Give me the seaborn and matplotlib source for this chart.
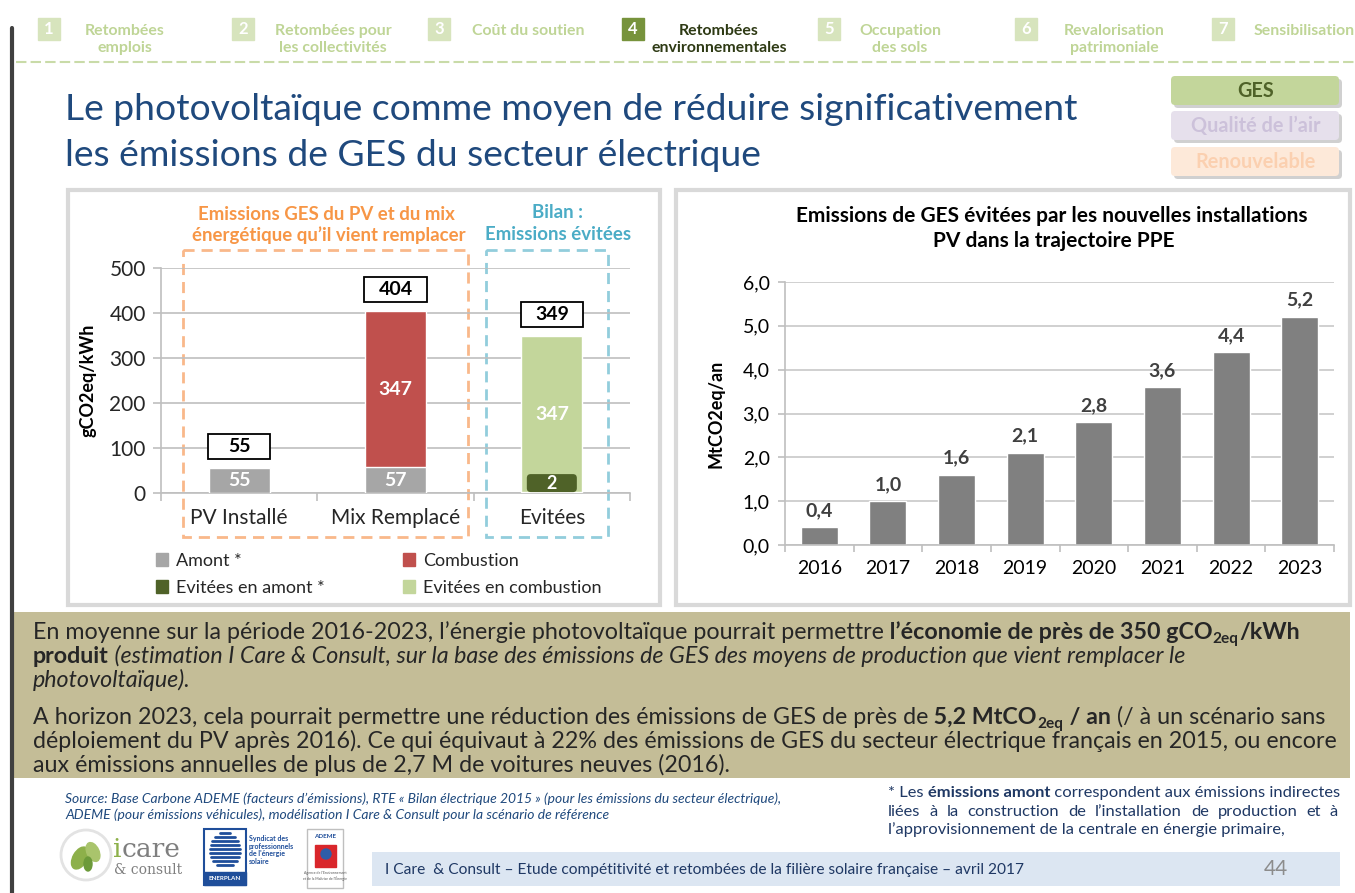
import numpy as np
import pandas as pd
import matplotlib
matplotlib.use("Agg")
import matplotlib.pyplot as plt
import seaborn as sns
from matplotlib.patches import Rectangle, FancyBboxPatch, Patch, Circle, Ellipse

sns.set_theme(style="white")
plt.rcParams['font.family'] = ['Lato', 'DejaVu Sans']

W, H = 1355, 893

# Graphique de gauche : emissions en gCO2eq/kWh
categories = ["PV Installé", "Mix Remplacé", "Evitées"]
amont = [55, 57, 2]
combustion = [0, 347, 347]
totaux = [55, 404, 349]
yticks_gauche = [0, 100, 200, 300, 400, 500]

# Graphique de droite : emissions evitees en MtCO2eq/an
annees = ["2016", "2017", "2018", "2019", "2020", "2021", "2022", "2023"]
evitees = [0.4, 1.0, 1.6, 2.1, 2.8, 3.6, 4.4, 5.2]
yticks_droite = [0, 1, 2, 3, 4, 5, 6]

# couleurs
GRIS = "#A6A6A6"
ROUGE = "#C0504D"
VERT_FONCE = "#4F6228"
VERT_CLAIR = "#C3D69B"
BLEU_TITRE = "#1F497D"
TEXTE = "#262626"
GRILLE = "#BFBFBF"

fig = plt.figure(figsize=(W / 100, H / 100), dpi=100)
bg = fig.add_axes([0, 0, 1, 1])
bg.set_xlim(0, W)
bg.set_ylim(H, 0)
bg.axis("off")
rend = fig.canvas.get_renderer()


def rect(x0, y0, x1, y1):
    return [x0 / W, 1 - y1 / H, (x1 - x0) / W, (y1 - y0) / H]


def largeur(txt, size, **kw):
    t = bg.text(0, 0, txt, fontsize=size, **kw)
    w = t.get_window_extent(rend).width
    t.remove()
    return w


def ajuste(txt, cible, **kw):
    return 10 * cible / largeur(txt, 10, **kw)


def ligne(x, y, morceaux, size, color):
    # morceaux : (texte, options) ; espaces uniquement en tete de morceau
    for txt, opts in morceaux:
        opts = dict(opts)
        sub = opts.pop("sub", False)
        s = size * 0.66 if sub else size
        yy = y + size * 100 / 72 * 0.17 if sub else y
        t = bg.text(x, yy, txt, fontsize=s, color=color, va="baseline", ha="left", **opts)
        x += t.get_window_extent(rend).width + (1 if sub else 0)


def justifie(x0, x1, y, txt, size, color, **kw):
    mots = txt.split(" ")
    ws = [largeur(m, size, **kw) for m in mots]
    gap = (x1 - x0 - sum(ws)) / (len(mots) - 1)
    x = x0
    for m, w in zip(mots, ws):
        bg.text(x, y, m, fontsize=size, color=color, va="baseline", ha="left", **kw)
        x += w + gap


# ---- bandeau de navigation
bg.plot([12, 12], [28, H], color="#404040", lw=3)
onglets = [
    (38, "1", "Retombées\nemplois", 125, "center"),
    (232, "2", "Retombées pour\nles collectivités", 333, "center"),
    (428, "3", "Coût du soutien", 472, "left"),
    (622, "4", "Retombées\nenvironnementales", 719, "center"),
    (818, "5", "Occupation\ndes sols", 900, "center"),
    (1015, "6", "Revalorisation\npatrimoniale", 1114, "center"),
    (1212, "7", "Sensibilisation", 1254, "left"),
]
s_nav = ajuste("Retombées pour", 117, weight="bold")
for x, num, lab, xl, ha in onglets:
    actif = num == "4"
    bg.add_patch(Rectangle((x, 18), 22, 22, color="#77933C" if actif else "#D7E4BD"))
    bg.text(x + 11, 29, num, ha="center", va="center", color="white", weight="bold", fontsize=12)
    bg.text(xl, 24, lab, ha=ha, va="top", multialignment="center", weight="bold", fontsize=s_nav,
            color="#2E3A14" if actif else "#BFD596", linespacing=1.25)
bg.plot([16, W], [62, 62], color="#C9DBA8", lw=1.5, ls=(0, (5, 2)))

# ---- titre
s_titre = ajuste("Le photovoltaïque comme moyen de réduire significativement", 1013)
bg.text(65, 120, "Le photovoltaïque comme moyen de réduire significativement", fontsize=s_titre,
        color=BLEU_TITRE, va="baseline")
bg.text(65, 166, "les émissions de GES du secteur électrique", fontsize=s_titre, color=BLEU_TITRE, va="baseline")

# ---- etiquettes thematiques
tags = [("GES", 76, "#C3D69B", "#4F6228"), ("Qualité de l’air", 111, "#E6E0EC", "#CCC1DA"),
        ("Renouvelable", 147, "#FDE9D9", "#FBD0B0")]
s_tag = ajuste("Qualité de l’air", 129, weight="bold")
for lab, y, fc, tc in tags:
    bg.add_patch(FancyBboxPatch((1174, y + 3), 168, 29, boxstyle="round,pad=0,rounding_size=4",
                                fc="#D0D0D0", ec="none"))
    bg.add_patch(FancyBboxPatch((1171, y), 168, 29, boxstyle="round,pad=0,rounding_size=4",
                                fc=fc, ec="none"))
    bg.text(1256, y + 15, lab, ha="center", va="center", weight="bold", fontsize=s_tag, color=tc)

# ---- cadres des graphiques
bg.add_patch(Rectangle((68, 190), 592, 415, fill=False, ec="#D9D9D9", lw=3))
bg.add_patch(Rectangle((676, 190), 674, 415, fill=False, ec="#D9D9D9", lw=3))

# ---- graphique de gauche
ax1 = fig.add_axes(rect(161, 268, 630, 493))
df_g = pd.DataFrame({"categorie": categories, "amont": amont, "combustion": combustion})
df_g["haut"] = df_g["amont"] + df_g["combustion"]
sns.barplot(data=df_g, x="categorie", y="haut", hue="categorie",
            palette=dict(zip(categories, [GRIS, ROUGE, VERT_CLAIR])),
            width=0.39, saturation=1, legend=False, ax=ax1, zorder=2)
sns.barplot(data=df_g, x="categorie", y="amont", hue="categorie",
            palette=dict(zip(categories, [GRIS, GRIS, VERT_FONCE])),
            width=0.39, saturation=1, legend=False, ax=ax1, zorder=3)
ax1.set_xlim(-0.5, 2.5)
ax1.set_ylim(0, 500)
ax1.set_yticks(yticks_gauche)
ax1.set_axisbelow(True)
ax1.grid(axis="y", color=GRILLE, lw=1.2)
ax1.set_xticks([-0.5, 0.5, 1.5, 2.5], minor=True)
ax1.tick_params(axis="x", which="major", length=0, pad=11, labelsize=15, labelcolor=TEXTE)
ax1.tick_params(axis="x", which="minor", bottom=True, length=6, color=GRILLE, width=1.2)
ax1.tick_params(axis="y", left=True, length=6, color=GRILLE, width=1.2, pad=5, labelsize=15, labelcolor=TEXTE)
for sp in ["top", "right"]:
    ax1.spines[sp].set_visible(False)
for sp in ["left", "bottom"]:
    ax1.spines[sp].set_color(GRILLE)
    ax1.spines[sp].set_linewidth(1.2)
ax1.set_xlabel("")
ax1.set_ylabel("gCO2eq/kWh", weight="bold", fontsize=13, color="black")
ax1.yaxis.set_label_coords(-0.137, 0.5)
ax1.patch.set_alpha(0)

for i, (a, c, t) in enumerate(zip(amont, combustion, totaux)):
    if c == 0 or i == 1:
        ax1.text(i, a / 2, str(a), ha="center", va="center", color="white", weight="bold", fontsize=14, zorder=5)
    else:
        ax1.add_patch(FancyBboxPatch((i - 0.16, 2), 0.32, 40, boxstyle="round,pad=0,rounding_size=0.025",
                                     mutation_aspect=350, fc=VERT_FONCE, ec="none", zorder=4))
        ax1.text(i, 22, str(a), ha="center", va="center", color="white", weight="bold", fontsize=13, zorder=5)
    if c > 0:
        ax1.text(i, a + c / 2, str(c), ha="center", va="center", color="white", weight="bold", fontsize=14, zorder=5)
    ax1.add_patch(Rectangle((i - 0.2, t + 48 - 28), 0.4, 56, fc="white", ec="black", lw=1.3,
                            zorder=4, clip_on=False))
    ax1.text(i, t + 48, str(t), ha="center", va="center", weight="bold", fontsize=14, color="black",
             zorder=5, clip_on=False)

# cadres pointilles et intitules
bg.add_patch(Rectangle((183, 250), 285, 287, fill=False, ec="#F9B88A", lw=2, ls=(0, (4, 2.5))))
bg.add_patch(Rectangle((486, 250), 122, 287, fill=False, ec="#92CDDC", lw=2, ls=(0, (4, 2.5))))
s_ent = ajuste("énergétique qu’il vient remplacer", 275, weight="bold")
bg.text(326, 214, "Emissions GES du PV et du mix", ha="center", va="center", weight="bold",
        fontsize=s_ent, color="#F79646")
bg.text(329, 235, "énergétique qu’il vient remplacer", ha="center", va="center", weight="bold",
        fontsize=s_ent, color="#F79646")
bg.text(558, 213, "Bilan :", ha="center", va="center", weight="bold", fontsize=s_ent, color="#4BACC6")
bg.text(558, 234, "Emissions évitées", ha="center", va="center", weight="bold", fontsize=s_ent, color="#4BACC6")

poignees = [Patch(color=GRIS), Patch(color=VERT_FONCE), Patch(color=ROUGE), Patch(color=VERT_CLAIR)]
libelles = ["Amont *", "Evitées en amont *", "Combustion", "Evitées en combustion"]
fig.legend(poignees, libelles, loc="upper left", bbox_to_anchor=(152 / W, 1 - 549 / H), ncol=2,
           frameon=False, fontsize=13, handlelength=0.7, handleheight=0.7, handletextpad=0.45,
           columnspacing=4.3, labelspacing=0.62, labelcolor=TEXTE, borderaxespad=0, borderpad=0.2)

# ---- graphique de droite
ax2 = fig.add_axes(rect(785, 282, 1334, 545))
df_d = pd.DataFrame({"annee": annees, "evitees": evitees})
sns.barplot(data=df_d, x="annee", y="evitees", color="#808080", saturation=1, width=0.54, ax=ax2, zorder=2)
ax2.set_xlim(-0.5, len(annees) - 0.5)
ax2.set_ylim(0, 6)
ax2.set_yticks(yticks_droite)
ax2.set_yticklabels([f"{v:.1f}".replace(".", ",") for v in yticks_droite])
ax2.set_axisbelow(True)
ax2.grid(axis="y", color="#C8C8C8", lw=1.2)
ax2.set_xticks(np.arange(-0.5, len(annees)), minor=True)
ax2.tick_params(axis="x", which="major", length=0, pad=11, labelsize=14, labelcolor="black")
ax2.tick_params(axis="x", which="minor", bottom=True, length=5, color=GRILLE, width=1.2)
ax2.tick_params(axis="y", left=True, length=5, color=GRILLE, width=1.2, pad=6, labelsize=14, labelcolor="black")
for sp in ["top", "right"]:
    ax2.spines[sp].set_visible(False)
for sp in ["left", "bottom"]:
    ax2.spines[sp].set_color(GRILLE)
    ax2.spines[sp].set_linewidth(1.2)
ax2.set_xlabel("")
ax2.set_ylabel("MtCO2eq/an", weight="bold", fontsize=13, color="black")
ax2.yaxis.set_label_coords(-0.111, 0.5)
ax2.patch.set_alpha(0)
for i, v in enumerate(evitees):
    ax2.annotate(f"{v:.1f}".replace(".", ","), (i, v), xytext=(0, 6), textcoords="offset points",
                 ha="center", va="bottom", fontsize=14, weight="bold", color="#404040")

s_t2 = ajuste("Emissions de GES évitées par les nouvelles installations", 513, weight="bold")
bg.text(1052, 216, "Emissions de GES évitées par les nouvelles installations", ha="center", va="center",
        weight="bold", fontsize=s_t2, color="black")
bg.text(1054, 241, "PV dans la trajectoire PPE", ha="center", va="center", weight="bold",
        fontsize=s_t2, color="black")

# ---- encadre de conclusion
bg.add_patch(Rectangle((14, 612), 1336, 166, color="#C4BD97", lw=0))
s_corps = ajuste("déploiement du PV après 2016). Ce qui équivaut à 22% des émissions de GES du secteur "
                 "électrique français en 2015, ou encore", 1304)
N, B, I = {}, {"weight": "bold"}, {"style": "italic"}
BS = {"weight": "bold", "sub": True}
ligne(33, 639, [("En moyenne sur la période 2016-2023, l’énergie photovoltaïque pourrait permettre", N),
                (" l’économie de près de 350 gCO", B), ("2eq", BS), ("/kWh", B)], s_corps, TEXTE)
ligne(33, 663, [("produit", B), (" (estimation I Care & Consult, sur la base des émissions de GES des moyens "
                                 "de production que vient remplacer le", I)], s_corps, TEXTE)
ligne(33, 687, [("photovoltaïque).", I)], s_corps, TEXTE)
ligne(33, 724, [("A horizon 2023, cela pourrait permettre une réduction des émissions de GES de près de", N),
                (" 5,2 MtCO", B), ("2eq", BS), (" / an", B), (" (/ à un scénario sans", N)], s_corps, TEXTE)
ligne(33, 748, [("déploiement du PV après 2016). Ce qui équivaut à 22% des émissions de GES du secteur "
                 "électrique français en 2015, ou encore", N)], s_corps, TEXTE)
ligne(33, 772, [("aux émissions annuelles de plus de 2,7 M de voitures neuves (2016).", N)], s_corps, TEXTE)

# ---- sources et note
src1 = ("Source: Base Carbone ADEME (facteurs d’émissions), RTE « Bilan électrique 2015 » "
        "(pour les émissions du secteur électrique),")
s_src = ajuste(src1, 717, style="italic")
bg.text(65, 803, src1, fontsize=s_src, style="italic", color=BLEU_TITRE, va="baseline")
bg.text(65, 819, "ADEME (pour émissions véhicules), modélisation I Care & Consult pour la scénario de référence",
        fontsize=s_src, style="italic", color=BLEU_TITRE, va="baseline")

s_note = ajuste("* Les émissions amont correspondent aux émissions indirectes", 450)
ligne(888, 797, [("* Les", N), (" émissions amont", B), (" correspondent aux émissions indirectes", N)],
      s_note, "#1F3864")
justifie(888, 1338, 816, "liées à la construction de l’installation de production et à", s_note, "#1F3864")
bg.text(888, 834, "l’approvisionnement de la centrale en énergie primaire,", fontsize=s_note,
        color="#1F3864", va="baseline")

# ---- pied de page
bg.add_patch(Rectangle((372, 852), 968, 34, color="#DCE6F2", lw=0))
pied = "I Care  & Consult – Etude compétitivité et retombées de la filière solaire française – avril 2017"
bg.text(385, 870, pied, fontsize=ajuste(pied, 642), color="#1F3864", va="center")
bg.text(1288, 869, "44", fontsize=15, color="#8C8C8C", ha="right", va="center")

# logos (esquisses)
bg.add_patch(Circle((86, 855), 25, fc="white", ec="#E3E3E3", lw=2))
bg.add_patch(Ellipse((80, 858), 14, 24, angle=30, color="#8DB04A"))
bg.add_patch(Ellipse((93, 852), 12, 20, angle=-25, color="#A9C46C"))
bg.add_patch(Ellipse((88, 864), 8, 14, angle=0, color="#6C9A3A"))
bg.text(113, 857, "i", fontsize=19, color="#8DB04A", family="DejaVu Serif", va="baseline")
bg.text(122, 857, "care", fontsize=19, color="#7F7F7F", family="DejaVu Serif", va="baseline")
bg.text(114, 874, "& consult", fontsize=10, color="#7F7F7F", family="DejaVu Serif", va="baseline")

bg.add_patch(Rectangle((204, 829), 42, 56, fc="white", ec="#1F4E9A", lw=1.5))
for k in range(9):
    yk = 833 + k * 4
    half = 15 * np.sqrt(max(0.0, 1 - ((yk - 850) / 18) ** 2))
    bg.plot([225 - half, 225 + half], [yk, yk], color="#1F4E9A", lw=2)
bg.add_patch(Rectangle((204, 872), 42, 13, color="#1F4E9A"))
bg.text(225, 879, "ENERPLAN", fontsize=4.5, color="white", weight="bold", ha="center", va="center")
bg.text(249, 835, "Syndicat des\nprofessionnels\nde l'énergie\nsolaire", fontsize=5, color="#1F4E9A",
        weight="bold", va="top", linespacing=1.1)

bg.add_patch(Rectangle((307, 829), 36, 59, fc="white", ec="#BFBFBF", lw=1))
bg.text(325, 837, "ADEME", fontsize=4.5, color="#1F4E9A", weight="bold", ha="center", va="center")
bg.add_patch(Rectangle((315, 845), 21, 22, color="#D9262B"))
bg.add_patch(Circle((326, 854), 5, color="#2E5DA8"))
bg.text(325, 876, "Agence de l'Environnement\net de la Maîtrise de l'Énergie", fontsize=2.5, color="#555555",
        ha="center", va="center")

fig.savefig("out.png", dpi=100)
